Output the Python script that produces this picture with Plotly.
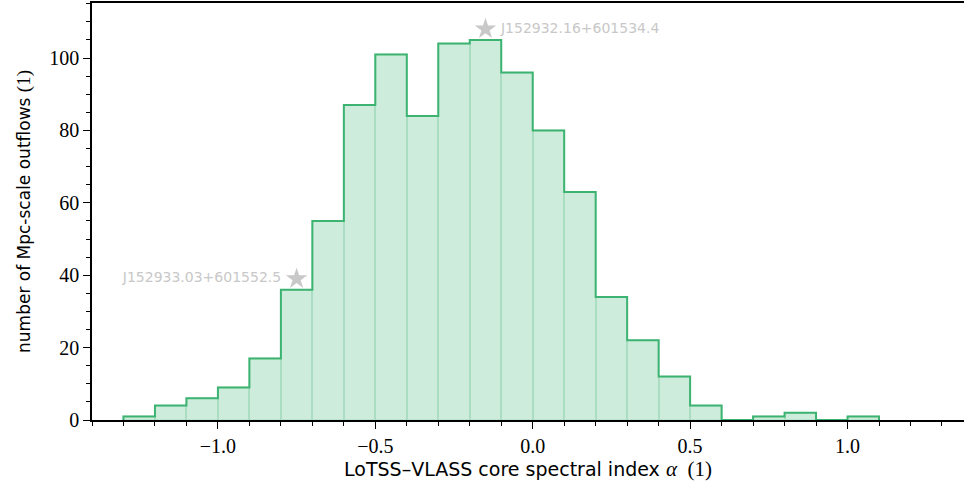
import plotly.graph_objects as go

bin_edges = [round(-1.3 + 0.1 * i, 1) for i in range(25)]
counts = [1, 4, 6, 9, 17, 36, 55, 87, 101, 84, 104, 105, 96, 80, 63, 34, 22, 12, 4, 0, 1, 2, 0, 1]

star_x = [-0.75, -0.15]
star_y = [39, 108]
star_labels = ["J152933.03+601552.5", "J152932.16+601534.4"]
star_pos = ["middle left", "middle right"]

green = "#3cb371"
centers = [(bin_edges[i] + bin_edges[i + 1]) / 2 for i in range(len(counts))]

fig = go.Figure()
fig.add_trace(go.Bar(
    x=centers, y=counts, width=0.1,
    marker=dict(color="rgba(60,179,113,0.25)", line=dict(color="rgba(60,179,113,0.13)", width=2)),
    hoverinfo="skip", showlegend=False))

sx = [bin_edges[0]]
sy = [0]
for i, c in enumerate(counts):
    sx += [bin_edges[i], bin_edges[i + 1]]
    sy += [c, c]
sx.append(bin_edges[-1])
sy.append(0)
fig.add_trace(go.Scatter(x=sx, y=sy, mode="lines", line=dict(color=green, width=2),
                         showlegend=False, hoverinfo="skip"))

for x, y, t, p in zip(star_x, star_y, star_labels, star_pos):
    fig.add_trace(go.Scatter(
        x=[x], y=[y], mode="markers+text", text=[" " + t + " "], textposition=p,
        marker=dict(symbol="star", size=16, color="#c8c8c8", line=dict(width=0)),
        textfont=dict(family="DejaVu Sans", size=14, color="#c8c8c8"),
        showlegend=False))

serif = "Liberation Serif"
fig.update_layout(
    width=965, height=492,
    margin=dict(l=92, r=1, t=1, b=72),
    plot_bgcolor="white", paper_bgcolor="white",
    bargap=0,
    xaxis=dict(
        range=[-1.4, 1.37], tickmode="array", tickvals=[-1.0, -0.5, 0.0, 0.5, 1.0],
        ticktext=["\u22121.0", "\u22120.5", "0.0", "0.5", "1.0"],
        ticks="outside", ticklen=7, tickwidth=1.3, tickcolor="black",
        minor=dict(dtick=0.1, tick0=0, ticks="outside", ticklen=4, tickwidth=1, tickcolor="black"),
        showline=True, linecolor="black", linewidth=1.5, mirror=True,
        showgrid=False, zeroline=False,
        tickfont=dict(family=serif, size=20, color="black"),
        title=dict(text="LoTSS\u2013VLASS core spectral index <span style='font-family:Liberation Serif;font-size:21px'><i>\u03b1</i>  (1)</span>",
                   font=dict(family="DejaVu Sans", size=19, color="black"), standoff=7),
    ),
    yaxis=dict(
        range=[0, 115.2], tickmode="array", tickvals=[0, 20, 40, 60, 80, 100],
        ticks="outside", ticklen=7, tickwidth=1.3, tickcolor="black",
        minor=dict(dtick=5, tick0=0, ticks="outside", ticklen=4, tickwidth=1, tickcolor="black"),
        showline=True, linecolor="black", linewidth=1.5,
        showgrid=False, zeroline=False,
        tickfont=dict(family=serif, size=20, color="black"),
        title=dict(text="number of Mpc-scale outflows <span style='font-family:Liberation Serif;font-size:19px'>(1)</span>",
                   font=dict(family="DejaVu Sans", size=17, color="black"), standoff=14),
    ),
)
fig.write_html("out.html")
